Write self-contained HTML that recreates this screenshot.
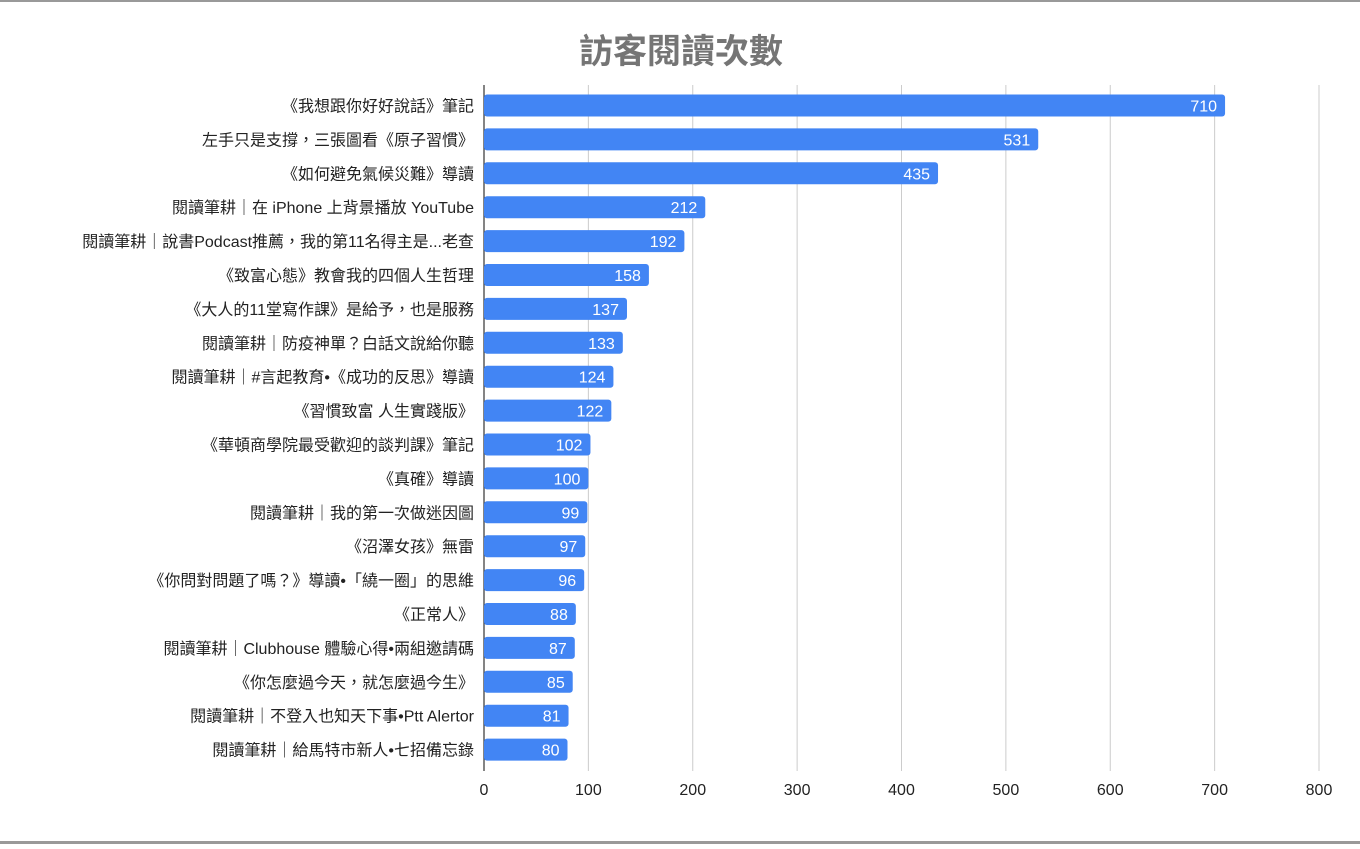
<!DOCTYPE html>
<html><head><meta charset="utf-8"><style>
html,body{margin:0;padding:0;background:#fff;}
svg text{font-family:"Liberation Sans","Noto Sans CJK TC",sans-serif;}
</style></head><body>
<svg id="chart" width="1360" height="844" viewBox="0 0 1360 844" xmlns="http://www.w3.org/2000/svg">
<rect x="0" y="0" width="1360" height="2" fill="#999"/>
<rect x="0" y="841" width="1360" height="3" fill="#999"/>
<text x="681" y="63" text-anchor="middle" font-size="34" font-weight="bold" fill="#757575">訪客閱讀次數</text>
<g id="grid"></g><g id="bars"></g><g id="labels"></g>
</svg>
<script>
const categories=["《我想跟你好好說話》筆記","左手只是支撐，三張圖看《原子習慣》","《如何避免氣候災難》導讀","閱讀筆耕｜在 iPhone 上背景播放 YouTube","閱讀筆耕｜說書Podcast推薦，我的第11名得主是...老查","《致富心態》教會我的四個人生哲理","《大人的11堂寫作課》是給予，也是服務","閱讀筆耕｜防疫神單？白話文說給你聽","閱讀筆耕｜#言起教育•《成功的反思》導讀","《習慣致富 人生實踐版》","《華頓商學院最受歡迎的談判課》筆記","《真確》導讀","閱讀筆耕｜我的第一次做迷因圖","《沼澤女孩》無雷","《你問對問題了嗎？》導讀•「繞一圈」的思維","《正常人》","閱讀筆耕｜Clubhouse 體驗心得•兩組邀請碼","《你怎麼過今天，就怎麼過今生》","閱讀筆耕｜不登入也知天下事•Ptt Alertor","閱讀筆耕｜給馬特市新人•七招備忘錄"];
const values=[710,531,435,212,192,158,137,133,124,122,102,100,99,97,96,88,87,85,81,80];
const ticks=[0,100,200,300,400,500,600,700,800];
const NS="http://www.w3.org/2000/svg";
const plotX0=484,plotX1=1319,xMax=800,plotTop=85,plotBot=771,firstC=105.5,step=33.9,bh=22;
const xs=v=>plotX0+(v/xMax)*(plotX1-plotX0);
const yc=i=>firstC+i*step;
function mk(t,a,p){const e=document.createElementNS(NS,t);for(const k in a)e.setAttribute(k,a[k]);p.appendChild(e);return e;}
const grid=document.getElementById('grid'),bars=document.getElementById('bars'),labels=document.getElementById('labels');
ticks.forEach(t=>{
 const l=mk('line',{x1:xs(t),x2:xs(t),y1:plotTop,y2:plotBot,stroke:t===0?'#333':'#ccc','stroke-width':t===0?1.2:1},grid);
 
 
 const tx=mk('text',{x:xs(t),y:795,'text-anchor':'middle','font-size':16,fill:'#222'},labels);
 tx.textContent=t;
 
 
});
categories.forEach((c,i)=>{
 const y=yc(i),v=values[i];
 const r=mk('rect',{x:plotX0,y:y-bh/2,width:xs(v)-plotX0,height:bh,rx:3,fill:'#4285f4'},bars);
 
 
 const vt=mk('text',{x:xs(v)-8,y:y+6,'text-anchor':'end','font-size':16,fill:'#fff'},labels);
 vt.textContent=v;
 
 
 const ct=mk('text',{x:474,y:y+6,'text-anchor':'end','font-size':16,fill:'#222'},labels);
 ct.textContent=c;
 
 
});
</script>
</body></html>
